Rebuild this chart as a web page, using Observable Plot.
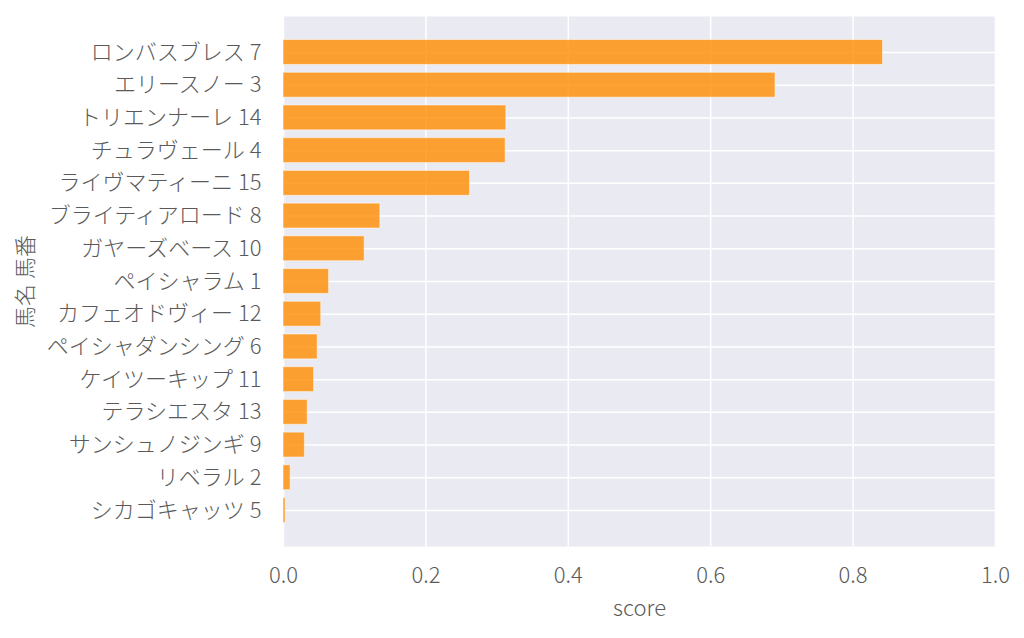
<!DOCTYPE html>
<html>
<head>
<meta charset="utf-8">
<script src="https://cdn.jsdelivr.net/npm/d3@7"></script>
<script src="https://cdn.jsdelivr.net/npm/@observablehq/plot@0.6"></script>
<style>
  html, body { margin: 0; padding: 0; background: #fff; }
  #chart svg { display: block; }
</style>
</head>
<body>
<div id="chart"></div>
<script>
const horses = ["ロンバスブレス 7", "エリースノー 3", "トリエンナーレ 14", "チュラヴェール 4", "ライヴマティーニ 15", "ブライティアロード 8", "ガヤーズベース 10", "ペイシャラム 1", "カフェオドヴィー 12", "ペイシャダンシング 6", "ケイツーキップ 11", "テラシエスタ 13", "サンシュノジンギ 9", "リベラル 2", "シカゴキャッツ 5"];
const scores = [0.842, 0.691, 0.313, 0.312, 0.262, 0.136, 0.114, 0.064, 0.053, 0.048, 0.043, 0.034, 0.030, 0.010, 0.003];
const xTicks = [0, 0.2, 0.4, 0.6, 0.8, 1.0];
const xLabel = "score";
const yLabel = "馬名 馬番";

const data = horses.map((h, i) => ({horse: h, score: scores[i]}));

const chart = Plot.plot({
  width: 1024,
  height: 638,
  marginLeft: 283,
  marginRight: 29,
  marginTop: 16,
  marginBottom: 92,
  style: {fontFamily: "'Noto Sans CJK JP Light', 'Noto Sans CJK JP', 'Noto Sans', sans-serif", fontWeight: 300, color: "#5a5a5a", fontSize: "22px", background: "#fff"},
  x: {domain: [0, 1], ticks: xTicks, labelArrow: "none"},
  y: {domain: horses, paddingInner: 0.24, paddingOuter: 0.72, round: false},
  marks: [
    Plot.frame({fill: "#EAEAF2", stroke: null}),
    Plot.gridX(xTicks, {stroke: "white", strokeOpacity: 1, strokeWidth: 1.5}),
    Plot.gridY({stroke: "white", strokeOpacity: 1, strokeWidth: 1.5}),
    Plot.barX(data, {x: "score", y: "horse", fill: "darkorange", fillOpacity: 0.8, stroke: "white", strokeOpacity: 0.5, strokeWidth: 1}),
    Plot.axisX({ticks: xTicks, tickFormat: d3.format(".1f"), tickSize: 0, tickPadding: 21, fontSize: 22, label: xLabel, labelArrow: "none", labelAnchor: "center", labelOffset: 69}),
    Plot.axisY({tickSize: 0, tickPadding: 22, fontSize: 22, label: yLabel, labelArrow: "none", labelAnchor: "center", labelOffset: 266})
  ]
});
document.getElementById("chart").appendChild(chart);
</script>
</body>
</html>
